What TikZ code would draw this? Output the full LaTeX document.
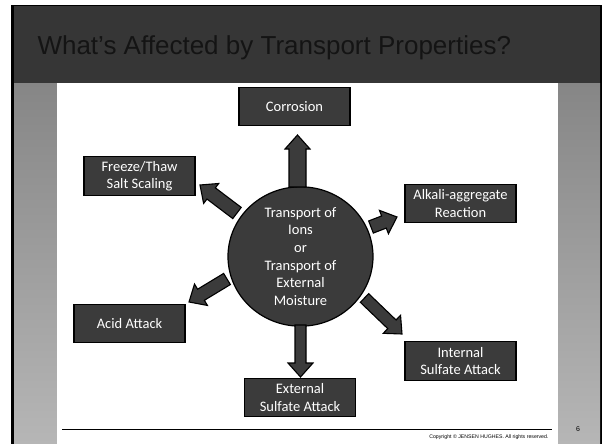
\documentclass[tikz,border=0pt]{standalone}
\usepackage{fontspec}
\setmainfont{Carlito}
\newfontfamily\arialfont{Liberation Sans}
\usetikzlibrary{calc,shapes.geometric}
\definecolor{hdr}{RGB}{54,54,54}
\definecolor{boxgray}{RGB}{59,59,59}
\definecolor{bartop}{RGB}{134,134,134}
\definecolor{barbot}{RGB}{182,182,182}
\definecolor{ttl}{RGB}{20,20,20}

\begin{document}
\begin{tikzpicture}[
        x=1pt, y=-1pt,
        effect/.style={rectangle, draw=black, line width=1.2pt, fill=boxgray, text=white,
            minimum width=111pt, minimum height=38.5pt, align=center, inner sep=2pt,
            font=\fontsize{14.5}{17.5}\selectfont},
        hub/.style={ellipse, draw=black, line width=1.2pt, fill=boxgray, text=white,
            minimum width=145pt, minimum height=132pt, inner sep=0pt, align=center,
            font=\fontsize{14.5}{17.7}\selectfont},
        fatarrow/.style={draw=black, line width=1.1pt, fill=boxgray, line join=miter,
            to path={
                ($(\tikztotarget)!14pt!(\tikztostart)$) coordinate (neck)
                ($(\tikztostart)!#1!90:(\tikztotarget)$)
                -- ($(neck)!#1!90:(\tikztotarget)$)
                -- ($(neck)!12.5pt!90:(\tikztotarget)$)
                -- (\tikztotarget)
                -- ($(neck)!12.5pt!-90:(\tikztotarget)$)
                -- ($(neck)!#1!-90:(\tikztotarget)$)
                -- ($(\tikztostart)!#1!-90:(\tikztotarget)$)
                -- cycle}},
        fatarrow/.default=7pt,
    ]
        \useasboundingbox (0,0) rectangle (602,444);

        % Slide frame and header bar
        \fill[white] (0,0) rectangle (602,444);
        \fill[black] (11,5) rectangle (602,444);
        \fill[hdr] (14,6.5) rectangle (600,83);
        \node[font=\arialfont\fontsize{26}{30}\selectfont, text=ttl, anchor=base west] (TITLE)
            at (34,55) {What’s Affected by Transport Properties?};

        % Side bars and white body
        \shade[top color=bartop, bottom color=barbot] (14,83) rectangle (57,444);
        \shade[top color=bartop, bottom color=barbot] (558,83) rectangle (600,444);
        \fill[white] (57,83) rectangle (558,444);

        % Centre circle
        \node[hub] (HUB) at (300.5,256.5) {Transport of\\Ions\\or\\Transport of\\External\\Moisture};

        % Effect boxes
        \node[effect] (CORR) at (294.5,106.5) {Corrosion};
        \node[effect] (FREEZE) at (139.5,176) {Freeze/Thaw\\Salt Scaling};
        \node[effect] (ALKALI) at (460.5,203.5) {Alkali-aggregate\\Reaction};
        \node[effect] (ACID) at (129.5,323.5) {Acid Attack};
        \node[effect] (EXTSULF) at (300,397.5) {External\\Sulfate Attack};
        \node[effect] (INTSULF) at (460.5,361) {Internal\\Sulfate Attack};

        % Block arrows out of the circle
        \coordinate (CORRa) at (297.5,187);   \coordinate (CORRb) at (297.5,135);
        \coordinate (FREEZEa) at (237,213);   \coordinate (FREEZEb) at (200,185);
        \coordinate (ALKALIa) at (371,227);   \coordinate (ALKALIb) at (397,217);
        \coordinate (ACIDa) at (227,279);     \coordinate (ACIDb) at (189,302);
        \coordinate (EXTa) at (300.5,325);    \coordinate (EXTb) at (300.5,377);
        \coordinate (INTa) at (364.5,298);    \coordinate (INTb) at (402,334);
        \draw[fatarrow=8.5pt] (CORRa) to (CORRb);
        \draw[fatarrow] (FREEZEa) to (FREEZEb);
        \draw[fatarrow=6.5pt] (ALKALIa) to (ALKALIb);
        \draw[fatarrow=6.5pt] (ACIDa) to (ACIDb);
        \draw[fatarrow=5.5pt] (EXTa) to (EXTb);
        \draw[fatarrow=6pt] (INTa) to (INTb);

        % Footer
        \draw[line width=1pt] (62,429) -- (552,429);
        \node[font=\arialfont\fontsize{5.2}{6}\selectfont, anchor=east] (COPY) at (552,437)
            {Copyright © JENSEN HUGHES. All rights reserved.};
        \node[font=\arialfont\fontsize{7}{8}\selectfont] (PAGE) at (578,429) {6};
    \end{tikzpicture}
\end{document}
